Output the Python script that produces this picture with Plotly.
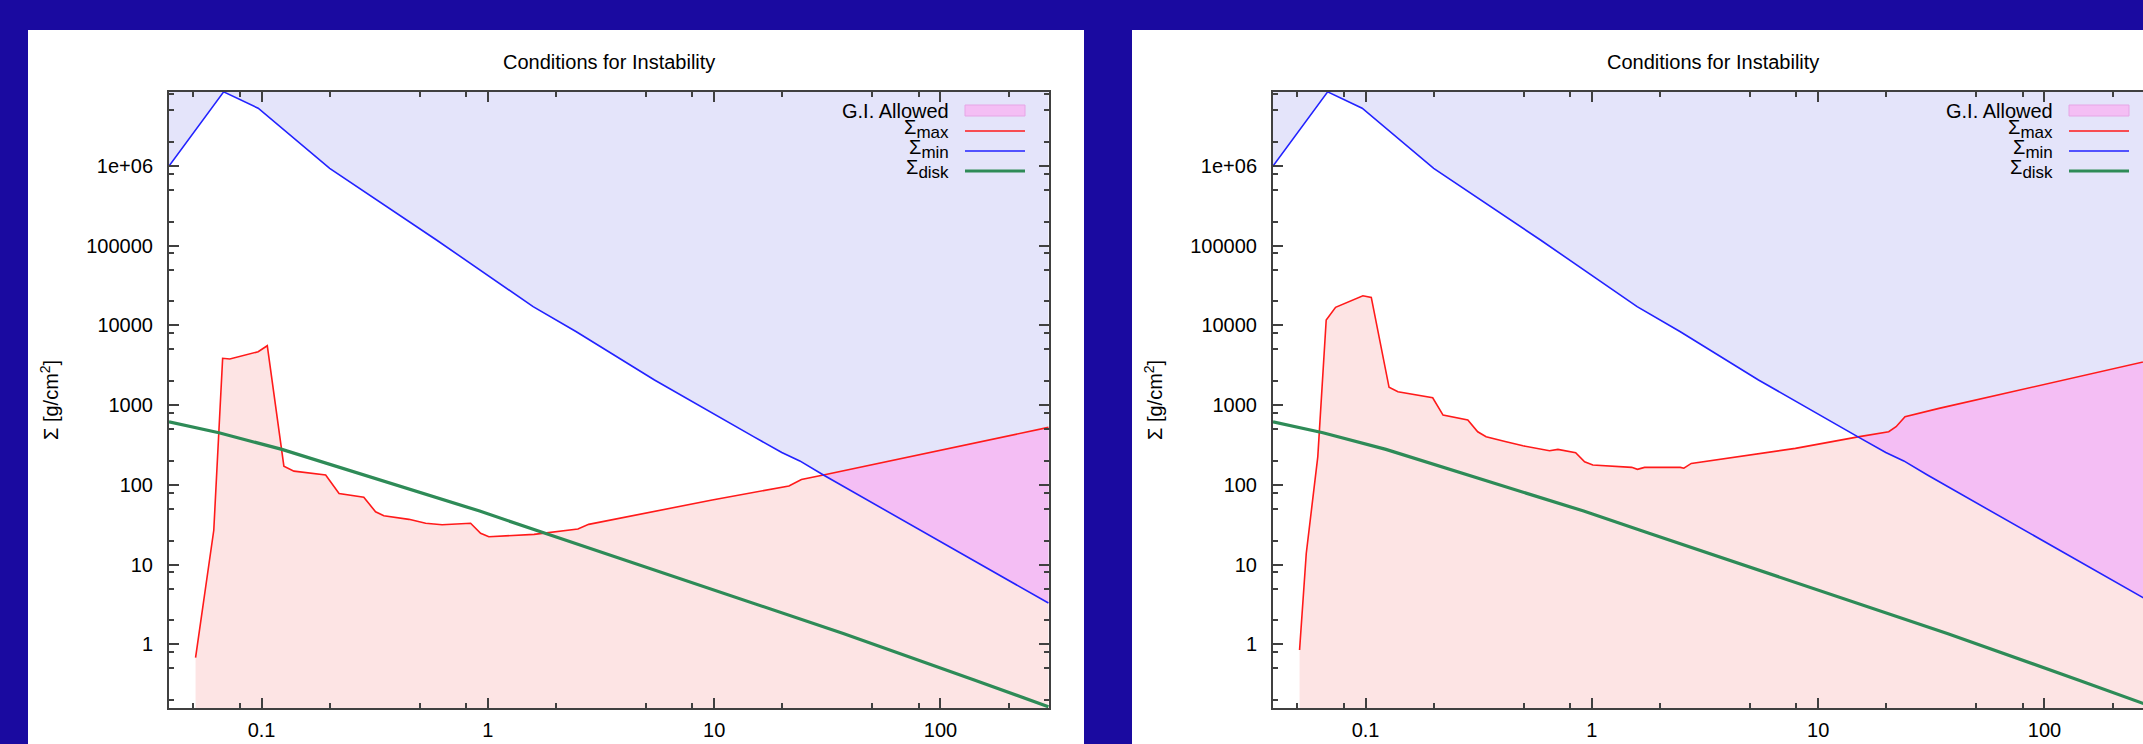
import plotly.graph_objects as go

W, H = 2143, 744

# ---------------- data ----------------
r_min = [0.039, 0.068, 0.0966, 0.2, 0.593, 1.585, 2.46, 5.45, 15.0, 19.9, 23.9, 30.4, 300]
sigma_min = [1.0e6, 8.5e6, 5.3e6, 9.35e5, 1.18e5, 1.72e4, 8340, 2070, 400, 255, 200, 133, 3.3]

r_disk = [0.039, 0.0648, 0.123, 0.92, 1.79, 9.8, 37.2, 142, 300]
sigma_disk = [620, 451, 279, 47, 24.7, 4.9, 1.37, 0.355, 0.165]

# left panel Sigma_max
r_max_a = [0.0511, 0.0615, 0.0673, 0.0724, 0.0966, 0.106, 0.1255, 0.139, 0.192, 0.22,
           0.283, 0.319, 0.347, 0.448, 0.531, 0.628, 0.839, 0.929, 1.01, 1.6, 2.5,
           2.79, 9.8, 21.4, 24.3, 30.4, 300]
sigma_max_a = [0.68, 27, 3870, 3800, 4680, 5570, 172, 149, 133, 78,
               70, 46, 41, 37, 33, 31.7, 33, 24.7, 22.4, 24, 28,
               32, 64.7, 97, 117, 133, 527]

# right panel Sigma_max
r_max_b = [0.0511, 0.0547, 0.0615, 0.067, 0.0737, 0.0973, 0.106, 0.115, 0.127, 0.139,
           0.198, 0.22, 0.283, 0.313, 0.341, 0.418, 0.496, 0.65, 0.708, 0.848, 0.929,
           1.01, 1.275, 1.50, 1.59, 1.71, 2.46, 2.55, 2.75, 7.93, 15.0, 20.5, 22.1,
           24.2, 34.2, 272, 300]
sigma_max_b = [0.85, 13.8, 225, 11700, 16900, 23600, 22500, 7220, 1675, 1475,
               1240, 752, 651, 464, 402, 348, 310, 268, 279, 253, 195,
               178, 172.6, 166, 157, 166, 166, 162, 186, 287, 400, 464, 537,
               716, 912, 3510, 3700]

cross_a = 30.4   # where Sigma_max rises above Sigma_min (left)
cross_b = 15.0   # (right)

x_tickvals = [0.1, 1, 10, 100]
x_ticktext = ["0.1", "1", "10", "100"]
y_tickvals = [1, 10, 100, 1000, 1e4, 1e5, 1e6]
y_ticktext = ["1", "10", "100", "1000", "10000", "100000", "1e+06"]
minor_mult = [2, 5, 8]
x_minor = [m * 10.0 ** k for k in range(-2, 3) for m in minor_mult]
y_minor = [m * 10.0 ** k for k in range(-1, 7) for m in minor_mult]

title_text = "Conditions for Instability"
ylabel_text = "Σ [g/cm<sup>2</sup>]"
SUB = '<sub><span style="font-size:17px">{}</span></sub>'
legend_labels = ["G.I. Allowed", "Σ" + SUB.format("max"), "Σ" + SUB.format("min"),
                 "Σ" + SUB.format("disk")]

# ---------------- styles ----------------
BG = "#1a0aa0"
LAV = "#e4e4fa"
PINK = "#fde4e4"
MAG = "#f4bef4"
RED = "#ff1a1a"
BLUE = "#2222ff"
GREEN = "#2e8b57"
AX = "#404040"
FONT = "Liberation Sans, Arial, Helvetica, sans-serif"
FS = 20
Y_TOP, Y_BOT = 1e9, 1e-3


def fx(px):
    return px / W


def fy(py):
    return 1 - py / H


fig = go.Figure()


def add_panel(xa, ya, r_max, s_max, cross):
    common = dict(xaxis=xa, yaxis=ya, showlegend=False, hoverinfo="skip", mode="lines")
    # lavender region above Sigma_min
    fig.add_trace(go.Scatter(x=[r_min[0], r_min[-1]], y=[Y_TOP, Y_TOP], line=dict(width=0), **common))
    fig.add_trace(go.Scatter(x=r_min, y=sigma_min, fill="tonexty", fillcolor=LAV, line=dict(width=0), **common))
    # pink region below Sigma_max
    fig.add_trace(go.Scatter(x=[r_max[0], r_max[-1]], y=[Y_BOT, Y_BOT], line=dict(width=0), **common))
    fig.add_trace(go.Scatter(x=r_max, y=s_max, fill="tonexty", fillcolor=PINK, line=dict(width=0), **common))
    # G.I. allowed region: between Sigma_min and Sigma_max where max > min
    bx = [x for x in r_min if x >= cross]
    by = [y for x, y in zip(r_min, sigma_min) if x >= cross]
    mx = [x for x in r_max if x >= cross]
    my = [y for x, y in zip(r_max, s_max) if x >= cross]
    fig.add_trace(go.Scatter(x=bx, y=by, line=dict(width=0), **common))
    fig.add_trace(go.Scatter(x=mx, y=my, fill="tonexty", fillcolor=MAG, line=dict(width=0), **common))
    # curves
    fig.add_trace(go.Scatter(x=r_max, y=s_max, line=dict(color=RED, width=1.6), **common))
    fig.add_trace(go.Scatter(x=r_min, y=sigma_min, line=dict(color=BLUE, width=1.6), **common))
    fig.add_trace(go.Scatter(x=r_disk, y=sigma_disk, line=dict(color=GREEN, width=3.2), **common))


add_panel("x", "y", r_max_a, sigma_max_a, cross_a)
add_panel("x2", "y2", r_max_b, sigma_max_b, cross_b)

DEC_X = 226.3   # px per decade (x)
x_lo = -1.409
y_range = [-0.798, 6.928]


def xaxis_cfg(x0px, x1px, anchor):
    return dict(
        type="log", domain=[fx(x0px), min(1.0, fx(x1px))],
        range=[x_lo, x_lo + (min(W, x1px) - x0px) / DEC_X], anchor=anchor,
        showline=True, linecolor=AX, linewidth=2, mirror="allticks",
        ticks="inside", ticklen=10, tickwidth=1.5, tickcolor=AX,
        tickmode="array", tickvals=x_tickvals, ticktext=x_ticktext,
        minor=dict(ticks="inside", ticklen=5, tickwidth=1.5, tickcolor=AX,
                   tickmode="array", tickvals=x_minor, showgrid=False),
        showgrid=False, zeroline=False,
        tickfont=dict(family=FONT, size=FS, color="#000"), ticklabelstandoff=3,
    )


def yaxis_cfg(anchor, mirror):
    return dict(
        type="log", domain=[fy(708), fy(92)], range=y_range, anchor=anchor,
        showline=True, linecolor=AX, linewidth=2, mirror=mirror,
        ticks="inside", ticklen=10, tickwidth=1.5, tickcolor=AX,
        tickmode="array", tickvals=y_tickvals, ticktext=y_ticktext,
        minor=dict(ticks="inside", ticklen=5, tickwidth=1.5, tickcolor=AX,
                   tickmode="array", tickvals=y_minor, showgrid=False),
        showgrid=False, zeroline=False,
        tickfont=dict(family=FONT, size=FS, color="#000"), ticklabelstandoff=10,
    )


PANEL_DX = 1104
shapes = []
annotations = []
for i, dx in enumerate([0, PANEL_DX]):
    # white panel
    shapes.append(dict(type="rect", xref="paper", yref="paper", layer="below",
                       x0=fx(28 + dx), x1=fx(1084 + dx) if dx == 0 else 1.05,
                       y0=-0.05, y1=fy(30), fillcolor="white", line=dict(width=0)))
    annotations.append(dict(text=title_text, x=fx(609 + dx), y=fy(62), xref="paper", yref="paper",
                            xanchor="center", yanchor="middle", showarrow=False,
                            font=dict(family=FONT, size=FS, color="#000")))
    annotations.append(dict(text=ylabel_text, x=fx(49 + dx), y=fy(400), xref="paper", yref="paper",
                            xanchor="center", yanchor="middle", showarrow=False, textangle=-90,
                            font=dict(family=FONT, size=FS, color="#000")))
    # legend (gnuplot style: text right, key on the right)
    rows = [111, 131, 151, 171]
    text_y = [111, 129, 149, 169]
    keys = [None, RED, BLUE, GREEN]
    widths = [None, 1.6, 1.6, 3.2]
    for lab, ry, ty, col, wd in zip(legend_labels, rows, text_y, keys, widths):
        annotations.append(dict(text=lab, x=fx(951 + dx), y=fy(ty), xref="paper", yref="paper",
                                xanchor="right", yanchor="middle", showarrow=False,
                                font=dict(family=FONT, size=FS, color="#000")))
        if col is None:
            shapes.append(dict(type="rect", xref="paper", yref="paper", layer="above",
                               x0=fx(965 + dx), x1=fx(1025 + dx), y0=fy(116), y1=fy(105),
                               fillcolor=MAG, line=dict(color="#e6a6e6", width=1)))
        else:
            shapes.append(dict(type="line", xref="paper", yref="paper", layer="above",
                               x0=fx(965 + dx), x1=fx(1025 + dx), y0=fy(ry), y1=fy(ry),
                               line=dict(color=col, width=wd)))

fig.update_layout(
    width=W, height=H, margin=dict(l=0, r=0, t=0, b=0, pad=0),
    paper_bgcolor=BG, plot_bgcolor="white", showlegend=False,
    xaxis=xaxis_cfg(169, 1049, "y"),
    yaxis=yaxis_cfg("x", "allticks"),
    xaxis2=xaxis_cfg(169 + PANEL_DX, 1049 + PANEL_DX, "y2"),
    yaxis2=yaxis_cfg("x2", False),
    shapes=shapes, annotations=annotations,
)

fig.write_html("out.html")
